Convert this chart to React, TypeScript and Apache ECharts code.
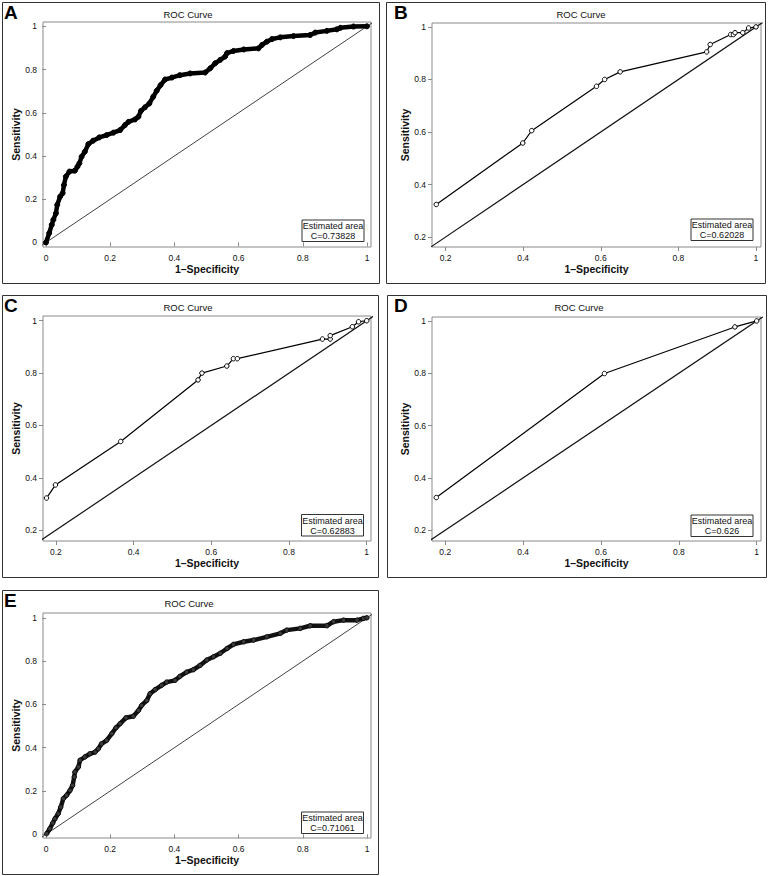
import React, { useEffect, useRef } from "react";
import * as echarts from "echarts";

// ---------- text / ticks ----------
const panelLetters = ["A", "B", "C", "D", "E"];
const chartTitle = "ROC Curve";
const xAxisTitle = "1–Specificity";
const yAxisTitle = "Sensitivity";
const areaLabel = "Estimated area";
const areaValues = ["C=0.73828", "C=0.62028", "C=0.62883", "C=0.626", "C=0.71061"];
const ticksFull = [0, 0.2, 0.4, 0.6, 0.8, 1];
const ticksPartial = [0.2, 0.4, 0.6, 0.8, 1];

// ---------- data (1-specificity, sensitivity) ----------
const aFpr = [0, 0.010, 0.018, 0.023, 0.031, 0.035, 0.044, 0.052, 0.056, 0.062, 0.073, 0.090, 0.098, 0.104, 0.111, 0.121, 0.132, 0.147, 0.166, 0.189, 0.210, 0.231, 0.246, 0.257, 0.277, 0.288, 0.296, 0.308, 0.322, 0.334, 0.345, 0.357, 0.371, 0.392, 0.417, 0.449, 0.496, 0.512, 0.527, 0.543, 0.558, 0.564, 0.584, 0.616, 0.662, 0.673, 0.688, 0.704, 0.730, 0.771, 0.823, 0.839, 0.875, 0.906, 0.917, 0.958, 1.0];
const aSens = [0, 0.043, 0.082, 0.105, 0.135, 0.174, 0.212, 0.228, 0.266, 0.305, 0.328, 0.332, 0.351, 0.366, 0.397, 0.420, 0.455, 0.471, 0.486, 0.497, 0.508, 0.520, 0.543, 0.558, 0.569, 0.582, 0.609, 0.625, 0.643, 0.674, 0.702, 0.728, 0.754, 0.763, 0.774, 0.782, 0.786, 0.806, 0.829, 0.845, 0.860, 0.876, 0.886, 0.893, 0.898, 0.914, 0.929, 0.941, 0.949, 0.955, 0.960, 0.971, 0.979, 0.986, 0.993, 0.999, 1.0];

const bFpr = [0.176, 0.399, 0.422, 0.589, 0.610, 0.650, 0.873, 0.882, 0.935, 0.942, 0.946, 0.966, 0.981, 1.0];
const bSens = [0.324, 0.558, 0.605, 0.774, 0.800, 0.829, 0.905, 0.933, 0.971, 0.971, 0.978, 0.978, 0.996, 1.0];

const cFpr = [0.176, 0.199, 0.367, 0.566, 0.576, 0.640, 0.657, 0.667, 0.886, 0.906, 0.906, 0.963, 0.979, 1.0];
const cSens = [0.323, 0.373, 0.539, 0.774, 0.800, 0.827, 0.855, 0.855, 0.930, 0.930, 0.943, 0.977, 0.996, 1.0];

const dFpr = [0.177, 0.609, 0.944, 1.0];
const dSens = [0.325, 0.799, 0.977, 1.0];

const eFpr = [0.002, 0.012, 0.021, 0.028, 0.038, 0.046, 0.054, 0.064, 0.075, 0.083, 0.088, 0.090, 0.101, 0.106, 0.121, 0.137, 0.153, 0.163, 0.173, 0.189, 0.205, 0.218, 0.231, 0.249, 0.272, 0.288, 0.298, 0.314, 0.324, 0.340, 0.360, 0.376, 0.402, 0.417, 0.438, 0.459, 0.480, 0.501, 0.522, 0.543, 0.564, 0.584, 0.616, 0.647, 0.688, 0.730, 0.750, 0.792, 0.823, 0.875, 0.896, 0.927, 0.969, 0.989, 1.0];
const eSens = [0.003, 0.026, 0.052, 0.072, 0.095, 0.126, 0.165, 0.180, 0.203, 0.226, 0.265, 0.288, 0.311, 0.342, 0.357, 0.372, 0.380, 0.395, 0.418, 0.434, 0.465, 0.492, 0.511, 0.538, 0.545, 0.572, 0.595, 0.618, 0.649, 0.668, 0.688, 0.703, 0.711, 0.729, 0.749, 0.760, 0.780, 0.805, 0.820, 0.836, 0.858, 0.877, 0.889, 0.897, 0.912, 0.928, 0.943, 0.951, 0.963, 0.963, 0.982, 0.989, 0.989, 0.997, 1.0];

const chanceLine = [[-0.1, -0.1], [1.1, 1.1]];

// ---------- layout ----------
const FONT = '"Liberation Sans", Arial, Helvetica, sans-serif';

type Panel = {
  fpr: number[];
  sens: number[];
  ticks: number[];
  box: [number, number, number, number];
  grid: [number, number, number, number];
  xr: [number, number];
  yr: [number, number];
  letter: [number, number];
  titleC: [number, number];
  legend: [number, number];
  dense: number; // 0 sparse, 1 solid thick, 2 textured thick
};

const panels: Panel[] = [
  { fpr: aFpr, sens: aSens, ticks: ticksFull, box: [2, 2, 377, 281], grid: [43, 22, 328, 225], xr: [-0.0093, 1.0125], yr: [-0.021, 1.02], letter: [4, 12.7], titleC: [188, 14], legend: [301.5, 219.5], dense: 1 },
  { fpr: bFpr, sens: bSens, ticks: ticksPartial, box: [386, 2, 379, 281], grid: [432, 23, 329, 224], xr: [0.165, 1.013], yr: [0.162, 1.015], letter: [394, 12.7], titleC: [581, 14], legend: [690.5, 218.5], dense: 0 },
  { fpr: cFpr, sens: cSens, ticks: ticksPartial, box: [2, 295, 376, 282], grid: [43, 316, 328, 225], xr: [0.167, 1.011], yr: [0.159, 1.018], letter: [4, 305], titleC: [188, 307], legend: [301, 514], dense: 0 },
  { fpr: dFpr, sens: dSens, ticks: ticksPartial, box: [387, 295, 379, 282], grid: [432, 317, 329, 224], xr: [0.166, 1.011], yr: [0.159, 1.015], letter: [394, 305], titleC: [579, 307], legend: [690.5, 514.5], dense: 0 },
  { fpr: eFpr, sens: eSens, ticks: ticksFull, box: [2, 590, 376, 284], grid: [43, 613, 328, 225], xr: [-0.0093, 1.0125], yr: [-0.017, 1.022], letter: [4, 600], titleC: [189, 603], legend: [301, 811.5], dense: 2 },
];

function buildOption() {
  const grid: any[] = [];
  const xAxis: any[] = [];
  const yAxis: any[] = [];
  const series: any[] = [];
  const graphic: any[] = [];

  panels.forEach((p, i) => {
    grid.push({
      left: p.grid[0], top: p.grid[1], width: p.grid[2], height: p.grid[3],
      show: true, borderColor: "#8a8a8a", borderWidth: 1, backgroundColor: "#fff",
      containLabel: false,
    });
    const tickCfg = { show: true, customValues: p.ticks, length: 4, lineStyle: { color: "#8a8a8a", width: 1 } };
    const labelCfg = { show: true, customValues: p.ticks, fontSize: 8.5, color: "#111", fontFamily: FONT, margin: 6 };
    xAxis.push({
      gridIndex: i, type: "value", min: p.xr[0], max: p.xr[1],
      axisLine: { show: false }, splitLine: { show: false },
      axisTick: tickCfg, axisLabel: labelCfg,
      name: xAxisTitle, nameLocation: "middle", nameGap: 16,
      nameTextStyle: { fontSize: 10.5, fontWeight: "bold", color: "#111", fontFamily: FONT },
    });
    yAxis.push({
      gridIndex: i, type: "value", min: p.yr[0], max: p.yr[1],
      axisLine: { show: false }, splitLine: { show: false },
      axisTick: tickCfg, axisLabel: labelCfg,
      name: yAxisTitle, nameLocation: "middle", nameGap: 22,
      nameTextStyle: { fontSize: 10.5, fontWeight: "bold", color: "#111", fontFamily: FONT },
    });
    // chance diagonal
    series.push({
      type: "line", xAxisIndex: i, yAxisIndex: i, data: chanceLine, symbol: "none", clip: true,
      lineStyle: { color: "#111", width: p.dense ? 0.8 : 1.2 }, silent: true, z: 2,
    });
    // ROC curve
    const pts = p.fpr.map((x, k) => [x, p.sens[k]]);
    let lineStyle: any, itemStyle: any, symbolSize: number;
    if (p.dense === 1) {
      lineStyle = { color: "#000", width: 4.5 };
      itemStyle = { color: "#000", borderColor: "#000", borderWidth: 1 };
      symbolSize = 5;
    } else if (p.dense === 2) {
      lineStyle = { color: "#111", width: 4.5 };
      itemStyle = { color: "#3a3a3a", borderColor: "#000", borderWidth: 0.8 };
      symbolSize = 4.5;
    } else {
      lineStyle = { color: "#000", width: 1.2 };
      itemStyle = { color: "#fff", borderColor: "#000", borderWidth: 1 };
      symbolSize = 4.5;
    }
    series.push({
      type: "line", xAxisIndex: i, yAxisIndex: i, data: pts, symbol: "circle", symbolSize,
      showAllSymbol: true, clip: true, lineStyle, itemStyle, z: 3,
    });

    // panel border
    graphic.push({
      type: "rect", shape: { x: p.box[0] + 0.5, y: p.box[1] + 0.5, width: p.box[2], height: p.box[3] },
      style: { fill: "none", stroke: "#333", lineWidth: 1 }, z: 1, silent: true,
    });
    // panel letter
    graphic.push({
      type: "text", x: p.letter[0], y: p.letter[1],
      style: { text: panelLetters[i], font: `bold 19px ${FONT}`, fill: "#000", align: "left", verticalAlign: "middle" },
      z: 10,
    });
    // title
    graphic.push({
      type: "text", x: p.titleC[0], y: p.titleC[1],
      style: { text: chartTitle, font: `9.5px ${FONT}`, fill: "#111", align: "center", verticalAlign: "middle" },
      z: 10,
    });
    // estimated area box
    const lx = p.legend[0], ly = p.legend[1];
    graphic.push({
      type: "group", z: 20,
      children: [
        { type: "rect", shape: { x: lx + 0.5, y: ly + 0.5, width: 62, height: 21.5 }, style: { fill: "#fff", stroke: "#333", lineWidth: 1 } },
        { type: "text", x: lx + 31.5, y: ly + 6.8, style: { text: areaLabel, font: `9px ${FONT}`, fill: "#111", align: "center", verticalAlign: "middle" } },
        { type: "text", x: lx + 31.5, y: ly + 16.5, style: { text: areaValues[i], font: `9px ${FONT}`, fill: "#111", align: "center", verticalAlign: "middle" } },
      ],
    });
  });

  return {
    animation: false,
    backgroundColor: "#fff",
    grid, xAxis, yAxis, series, graphic,
  };
}

export default function App() {
  const ref = useRef<HTMLDivElement>(null);
  useEffect(() => {
    if (!ref.current) return;
    const chart = echarts.init(ref.current, undefined, { renderer: "svg" });
    chart.setOption(buildOption() as any);
    return () => chart.dispose();
  }, []);
  return (
    <div
      ref={ref}
      style={{ position: "absolute", left: 0, top: 0, width: 769, height: 876, background: "#fff" }}
    />
  );
}
